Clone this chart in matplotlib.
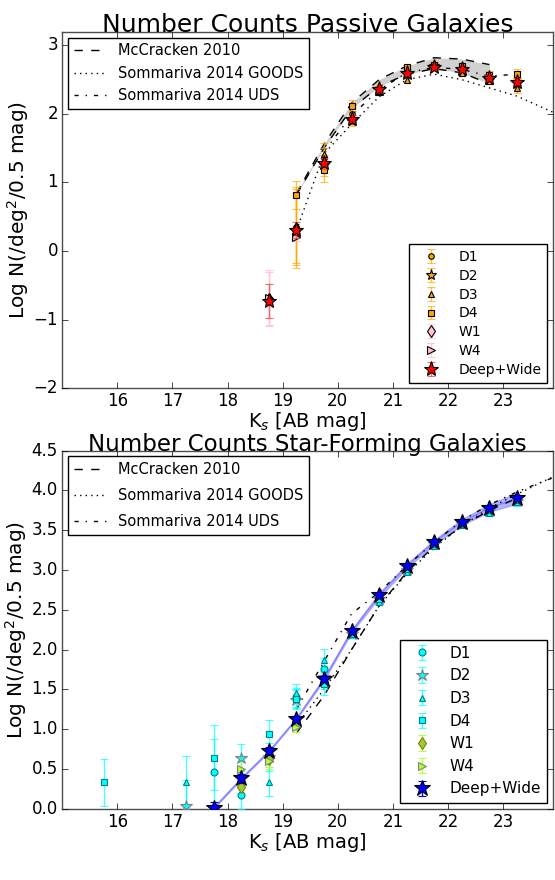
import matplotlib
matplotlib.use('Agg')
import matplotlib.pyplot as plt
from matplotlib.lines import Line2D
import numpy as np

plt.style.use('classic')
plt.rcParams['figure.facecolor'] = 'white'
plt.rcParams['savefig.facecolor'] = 'white'
plt.rcParams['font.family'] = ['DejaVu Sans']
plt.rcParams['mathtext.fontset'] = 'dejavusans'

nan = np.nan

# ---------------- Passive galaxies (top) ----------------
mag_p = [18.75, 19.25, 19.75, 20.25, 20.75, 21.25, 21.75, 22.25, 22.75, 23.25]
p_D1 = [nan, 0.35, 1.35, 2.00, 2.38, 2.62, 2.70, 2.65, 2.52, 2.45]
p_D2 = [nan, 0.30, 1.25, 1.90, 2.35, 2.58, 2.70, 2.63, 2.50, 2.45]
p_D3 = [nan, 0.38, 1.42, 1.95, 2.32, 2.50, 2.68, 2.60, 2.48, 2.38]
p_D4 = [nan, 0.82, 1.18, 2.12, 2.33, 2.68, 2.72, 2.70, 2.57, 2.58]
p_W1 = [-0.70, 0.30, nan, nan, nan, nan, nan, nan, nan, nan]
p_W4 = [-0.68, 0.20, nan, nan, nan, nan, nan, nan, nan, nan]
p_DW = [-0.73, 0.31, 1.28, 1.93, 2.37, 2.60, 2.69, 2.65, 2.53, 2.47]
p_eD = [nan, 0.55, 0.15, 0.08, 0.05, 0.04, 0.04, 0.04, 0.05, 0.07]
p_eD4 = [nan, 0.20, 0.18, 0.08, 0.05, 0.04, 0.04, 0.04, 0.05, 0.07]
p_eW = [0.40, 0.06, nan, nan, nan, nan, nan, nan, nan, nan]
p_eDW = [0.25, 0.12, 0.08, 0.05, 0.04, 0.03, 0.03, 0.03, 0.04, 0.05]

mc_mag_p = [19.25, 19.75, 20.25, 20.75, 21.25, 21.75, 22.25, 22.75]
mc_lo_p = [0.82, 1.50, 2.08, 2.40, 2.58, 2.66, 2.60, 2.44]
mc_hi_p = [0.84, 1.56, 2.16, 2.50, 2.70, 2.82, 2.80, 2.72]
goods_mag_p = [19.25, 19.75, 20.25, 20.75, 21.25, 21.75, 22.25, 22.75, 23.25, 23.75, 24.25]
goods_p = [0.30, 1.42, 1.85, 2.25, 2.50, 2.58, 2.50, 2.38, 2.26, 2.08, 1.90]
uds_mag_p = [19.75, 20.25, 20.75, 21.25, 21.75, 22.25, 22.75, 23.25]
uds_p = [1.45, 1.98, 2.35, 2.60, 2.68, 2.65, 2.55, 2.58]

# ---------------- Star-forming galaxies (bottom) ----------------
mag_s = [15.75, 16.25, 16.75, 17.25, 17.75, 18.25, 18.75, 19.25, 19.75,
         20.25, 20.75, 21.25, 21.75, 22.25, 22.75, 23.25]
s_D1 = [nan, nan, nan, nan, 0.46, 0.17, nan, 1.40, 1.75, 2.22, 2.65, 3.02, 3.33, 3.58, 3.75, 3.88]
s_D2 = [nan, nan, nan, 0.04, nan, 0.64, 0.65, 1.37, 1.65, 2.20, 2.63, 3.00, 3.32, 3.58, 3.74, 3.87]
s_D3 = [nan, nan, nan, 0.34, nan, nan, 0.34, 1.45, 1.87, 2.20, 2.60, 2.98, 3.30, 3.56, 3.72, 3.85]
s_D4 = [0.33, nan, nan, nan, 0.64, nan, 0.94, 1.38, 1.57, 2.20, 2.63, 3.01, 3.33, 3.58, 3.75, 3.88]
s_W1 = [nan, nan, nan, nan, nan, 0.27, 0.62, 1.10, nan, nan, nan, nan, nan, nan, nan, nan]
s_W4 = [nan, nan, nan, nan, nan, 0.50, 0.60, 1.03, nan, nan, nan, nan, nan, nan, nan, nan]
s_DW = [nan, nan, nan, nan, 0.01, 0.38, 0.72, 1.13, 1.63, 2.23, 2.68, 3.05, 3.35, 3.60, 3.78, 3.90]
s_eD = [0.30, nan, nan, 0.32, 0.41, 0.17, 0.18, 0.12, 0.14, 0.05, 0.04, 0.03, 0.03, 0.03, 0.04, 0.05]
s_eW = [nan, nan, nan, nan, nan, 0.10, 0.10, 0.06, nan, nan, nan, nan, nan, nan, nan, nan]
s_eDW = [nan, nan, nan, nan, 0.08, 0.06, 0.05, 0.04, 0.04, 0.03, 0.02, 0.02, 0.02, 0.02, 0.03, 0.04]
s_band = [nan, nan, nan, nan, 0.01, 0.01, 0.01, 0.01, 0.02, 0.02, 0.03, 0.03, 0.03, 0.04, 0.05, 0.07]

mc_mag_s = [19.25, 19.75, 20.25, 20.75, 21.25, 21.75, 22.25, 22.75, 23.25]
mc_s = [0.95, 1.42, 2.00, 2.55, 2.97, 3.30, 3.55, 3.75, 3.90]
goods_mag_s = [19.25, 19.75, 20.25, 20.75, 21.25, 21.75, 22.25, 22.75, 23.25, 23.75, 24.25]
goods_s = [1.05, 1.50, 2.00, 2.55, 2.95, 3.28, 3.55, 3.78, 3.95, 4.12, 4.28]
uds_mag_s = [19.25, 19.75, 20.25, 20.75, 21.25, 21.75, 22.25, 22.75, 23.25, 23.75, 24.25]
uds_s = [1.25, 1.85, 2.45, 2.72, 3.05, 3.35, 3.62, 3.82, 3.98, 4.12, 4.24]

xt = [16, 17, 18, 19, 20, 21, 22, 23]

fig = plt.figure(figsize=(5.55, 8.8), dpi=100)
ax1 = fig.add_axes([0.112, 0.559, 0.884, 0.405])
ax2 = fig.add_axes([0.112, 0.081, 0.884, 0.407])


def ref_lines(ax, fs, sp):
    h = [Line2D([], [], color='k', ls='--', lw=1),
         Line2D([], [], color='k', ls=':', lw=1),
         Line2D([], [], color='k', ls='-.', lw=1)]
    lab = ['McCracken 2010', 'Sommariva 2014 GOODS', 'Sommariva 2014 UDS']
    leg = ax.legend(h, lab, loc='upper left', fontsize=fs, numpoints=1,
                    handlelength=2.2, borderaxespad=0.4, labelspacing=sp)
    leg.get_frame().set_edgecolor('k')
    ax.add_artist(leg)


def eb(ax, x, y, e, mk, fc, ec, erc, ms, lab, z=3):
    return ax.errorbar(x, y, yerr=e, fmt=mk, mfc=fc, mec=ec, ms=ms, ecolor=erc,
                       capsize=3, elinewidth=1, mew=0.8, label=lab, zorder=z)


def finish(ax, title, tfs):
    ax.set_xlim(15, 23.9)
    ax.set_xticks(xt)
    ax.tick_params(labelsize=12, pad=3)
    ax.set_title(title, fontsize=tfs, y=1.0, pad=0)
    ax.set_xlabel('K$_s$ [AB mag]', fontsize=14, labelpad=0)
    ax.set_ylabel('Log N(/deg$^2$/0.5 mag)', fontsize=14.5, labelpad=2)
    for s in ax.spines.values():
        s.set_edgecolor('0.3')


# ---- top panel
ax = ax1
ax.fill_between(mc_mag_p, mc_lo_p, mc_hi_p, color='0.6', alpha=0.45, lw=0)
ax.plot(mc_mag_p, mc_hi_p, 'k--', lw=1)
ax.plot(mc_mag_p, mc_lo_p, 'k--', lw=1)
ax.plot(goods_mag_p, goods_p, 'k:', lw=1)
ax.plot(uds_mag_p, uds_p, 'k-.', lw=1)
org = (1.0, 0.65, 0.0, 0.7)
pnk = (1.0, 0.75, 0.8, 0.8)
hs = []
hs.append(eb(ax, mag_p, p_D1, p_eD, 'o', 'orange', 'k', org, 4, 'D1'))
hs.append(eb(ax, mag_p, p_D2, p_eD, '*', 'orange', 'k', org, 8, 'D2'))
hs.append(eb(ax, mag_p, p_D3, p_eD, '^', 'orange', 'k', org, 5, 'D3'))
hs.append(eb(ax, mag_p, p_D4, p_eD4, 's', 'orange', 'k', org, 5, 'D4'))
hs.append(eb(ax, mag_p, p_W1, p_eW, 'd', 'pink', 'k', pnk, 6, 'W1'))
hs.append(eb(ax, mag_p, p_W4, p_eW, '>', 'pink', 'k', pnk, 6, 'W4'))
hs.append(eb(ax, mag_p, p_DW, p_eDW, '*', 'red', 'k', (0.9, 0.3, 0.3, 0.8), 11, 'Deep+Wide', 4))
ref_lines(ax, 10.5, 0.5)
leg = ax.legend(handles=hs, loc='lower right', fontsize=10, numpoints=1,
                handlelength=2.4, borderaxespad=0.4, labelspacing=0.35)
leg.get_frame().set_edgecolor('k')
ax.set_ylim(-2, 3.2)
ax.set_yticks([-2, -1, 0, 1, 2, 3])
finish(ax, 'Number Counts Passive Galaxies', 18)

# ---- bottom panel
ax = ax2
m = np.array(mag_s)
dw = np.array(s_DW)
bd = np.array(s_band)
ok = ~np.isnan(dw)
ax.fill_between(m[ok], (dw - bd)[ok], (dw + bd)[ok], color='blue', alpha=0.3, lw=0.8,
                edgecolor=(0.3, 0.3, 1.0, 0.4))
ax.plot(m[ok], dw[ok], color=(0.4, 0.4, 1.0, 0.6), lw=1)
ax.plot(mc_mag_s, mc_s, 'k--', lw=1)
ax.plot(goods_mag_s, goods_s, 'k:', lw=1)
ax.plot(uds_mag_s, uds_s, 'k-.', lw=1)
cyn = (0.0, 1.0, 1.0, 0.7)
grn = (0.68, 1.0, 0.18, 0.9)
hs = []
hs.append(eb(ax, mag_s, s_D1, s_eD, 'o', 'cyan', 'teal', cyn, 5, 'D1'))
hs.append(eb(ax, mag_s, s_D2, s_eD, '*', 'cyan', 'gray', cyn, 9, 'D2'))
hs.append(eb(ax, mag_s, s_D3, s_eD, '^', 'cyan', 'teal', cyn, 5, 'D3'))
hs.append(eb(ax, mag_s, s_D4, s_eD, 's', 'cyan', 'teal', cyn, 5, 'D4'))
hs.append(eb(ax, mag_s, s_W1, s_eW, 'd', 'yellowgreen', 'olive', grn, 6, 'W1'))
hs.append(eb(ax, mag_s, s_W4, s_eW, '>', 'greenyellow', 'gray', grn, 6, 'W4'))
hs.append(eb(ax, mag_s, s_DW, s_eDW, '*', 'blue', 'k', 'blue', 12, 'Deep+Wide', 4))
ref_lines(ax, 10.5, 0.75)
leg = ax.legend(handles=hs, loc='lower right', fontsize=11, numpoints=1,
                handlelength=2.0, borderaxespad=0.4, labelspacing=0.5)
leg.get_frame().set_edgecolor('k')
ax.set_ylim(0, 4.5)
ax.set_yticks(np.arange(0, 4.51, 0.5))
finish(ax, 'Number Counts Star-Forming Galaxies', 16.5)

fig.savefig('out.png', dpi=100)
